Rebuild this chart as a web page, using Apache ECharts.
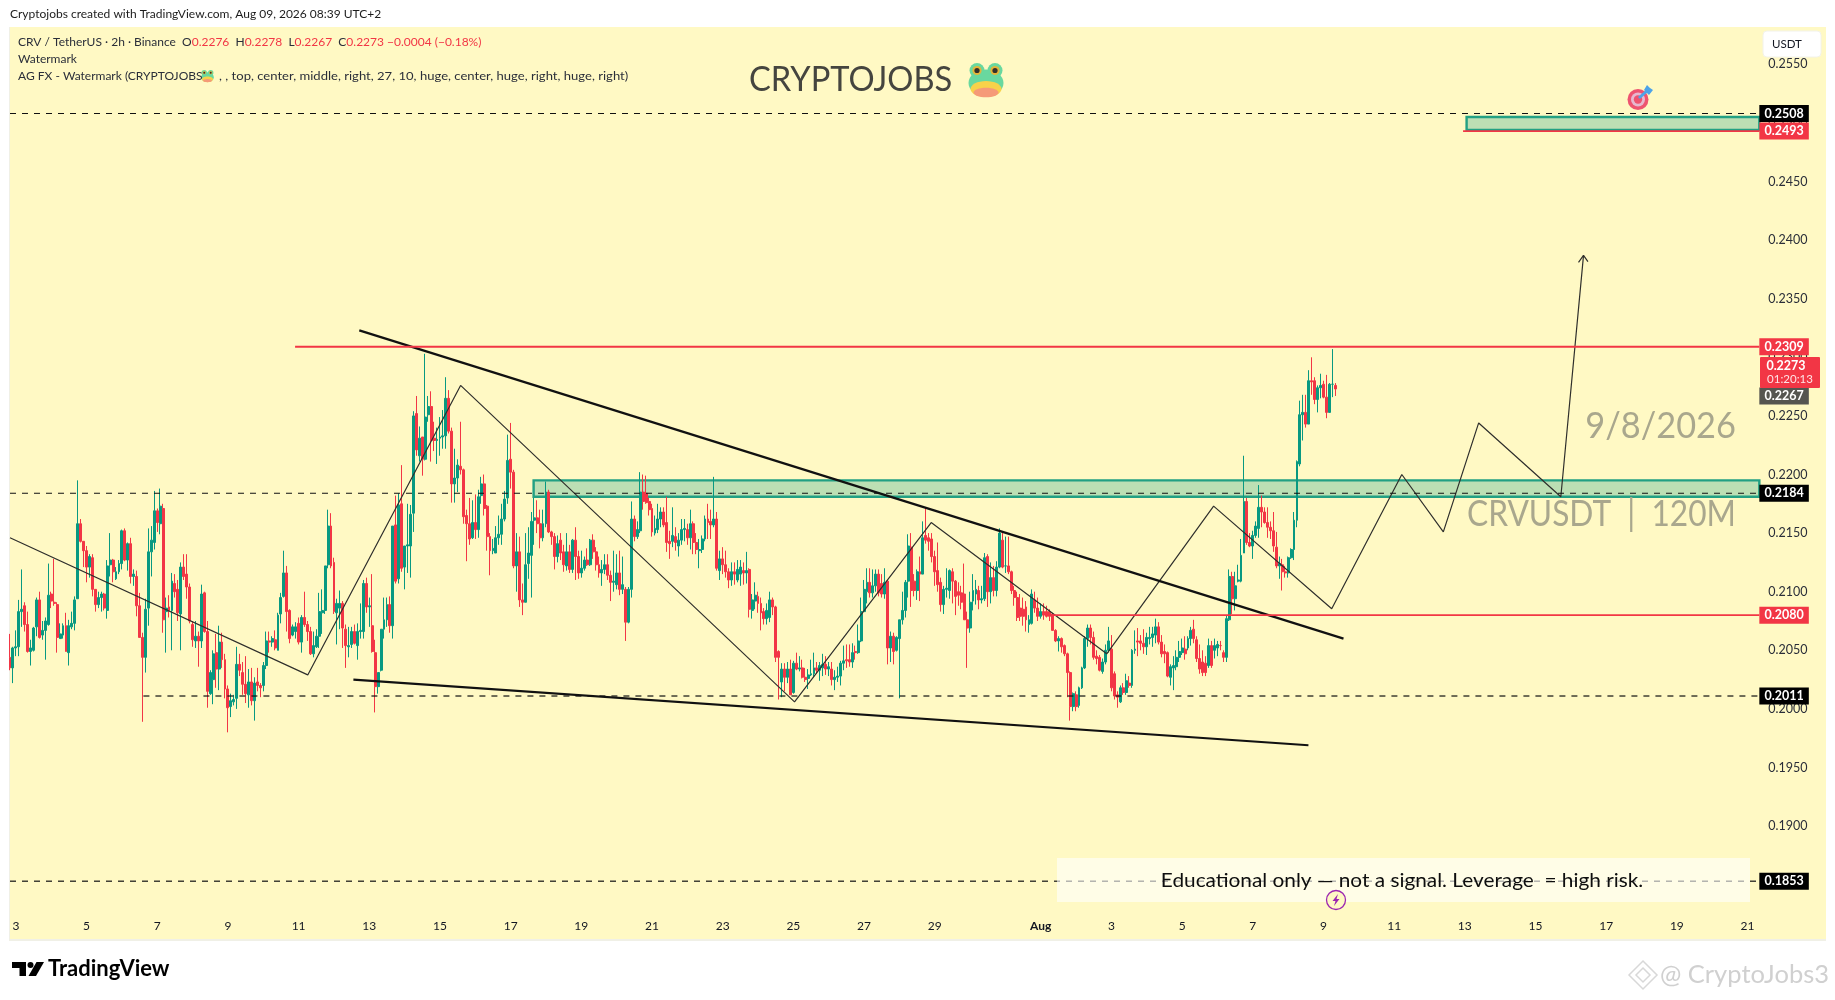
<!DOCTYPE html>
<html><head><meta charset="utf-8">
<style>
html,body{margin:0;padding:0;background:#fff;overflow:hidden}
#panel{position:absolute;left:9px;top:27px;width:1816px;height:912px;background:#fff9c4;border-left:1px solid #f0f0e6;border-bottom:2px solid #f0f0e6}
#c{position:absolute;left:0;top:0;width:1835px;height:1000px}
</style>
<script src="https://cdn.jsdelivr.net/npm/echarts@6/dist/echarts.min.js"></script>
</head><body><div id="panel"></div><div id="c"></div>
<script>
// All prices below are in units of 0.0001 USDT. Each bar is [open, high, low, close] of a 2h candle.
const barsJul3=[[2044,2064,2033,2035],[2035,2053,2022,2052],[2052,2067,2045,2053],[2053,2093,2045,2083],[2083,2119,2070,2085],[2088,2091,2066,2072],[2072,2083,2048,2049],[2049,2059,2037,2052],[2050,2070,2049,2069],[2070,2095,2062,2093],[2093,2100,2060,2061],[2063,2075,2059,2067],[2067,2078,2042,2075],[2072,2124,2071,2097],[2098,2100,2086,2092],[2091,2128,2088,2090],[2089,2091,2048,2061],[2060,2073,2060,2064],[2063,2073,2060,2071],[2071,2082,2049,2049],[2048,2076,2037,2071],[2070,2083,2068,2073],[2073,2096,2067,2093],[2094,2195,2094,2158],[2158,2162,2142,2143],[2143,2143,2121,2135],[2135,2139,2108,2121],[2121,2132,2112,2130],[2129,2132,2096,2102],[2102,2102,2083,2089],[2089,2100,2086,2095],[2095,2100,2083,2098],[2098,2099,2084,2086],[2084,2127,2077,2122],[2123,2150,2113,2127],[2127,2128,2108,2117],[2111,2121,2110,2117],[2117,2127,2115,2124],[2124,2153,2119,2152],[2152,2154,2126,2127],[2127,2142,2118,2141],[2141,2146,2107,2113],[2113,2119,2105,2115],[2113,2118,2079,2088],[2088,2099,2061,2061],[2061,2065,1989,2044],[2044,2094,2031,2085],[2086,2154,2071,2134],[2134,2156,2113,2144],[2142,2186,2136,2169],[2169,2171,2151,2159],[2158,2188,2149,2173],[2171,2175,2065,2076],[2083,2095,2048,2086],[2087,2097,2078,2084],[2084,2116,2050,2109],[2107,2115,2095,2100],[2102,2110,2075,2082],[2081,2125,2050,2121],[2121,2132,2110,2113],[2115,2132,2094,2104],[2104,2107,2073,2075],[2072,2075,2053,2059],[2058,2075,2052,2062],[2062,2066,2036,2058],[2058,2106,2052,2098],[2099,2100,2065,2066],[2066,2075,2001,2015],[2013,2033,2012,2031],[2025,2050,2004,2047],[2048,2064,2018,2034],[2034,2071,2016,2057],[2057,2065,2035,2042],[2042,2047,2009,2017],[2017,2020,1980,2001]];
const barsJul9=[[2002,2013,1993,2007],[2006,2012,2003,2008],[2009,2053,2000,2038],[2038,2047,2028,2033],[2031,2040,2012,2021],[2021,2045,2005,2013],[2012,2034,2001,2023],[2023,2035,2003,2007],[2007,2027,1990,2022],[2023,2035,2015,2020],[2020,2022,2010,2018],[2020,2040,2015,2037],[2037,2066,2034,2058],[2058,2066,2048,2057],[2057,2062,2053,2060],[2059,2067,2050,2052],[2050,2082,2050,2080],[2081,2099,2073,2095],[2096,2135,2095,2116],[2116,2122,2066,2083],[2084,2085,2056,2060],[2063,2072,2062,2070],[2066,2074,2060,2070],[2073,2078,2055,2057],[2057,2080,2048,2078],[2078,2100,2070,2072],[2072,2075,2058,2066],[2066,2070,2046,2047],[2047,2066,2044,2054],[2053,2068,2052,2062],[2062,2099,2052,2083],[2082,2102,2064,2084],[2084,2122,2081,2122],[2123,2170,2120,2156],[2156,2167,2120,2122],[2125,2129,2081,2083],[2082,2094,2055,2090],[2086,2101,2068,2090],[2090,2092,2052,2069],[2068,2072,2035,2054],[2053,2070,2044,2054],[2055,2070,2052,2066],[2066,2072,2055,2056],[2054,2073,2042,2066],[2066,2090,2060,2067],[2066,2110,2060,2107],[2107,2112,2082,2087],[2087,2095,2070,2088],[2071,2115,2048,2049],[2048,2059,1997,2019],[2019,2031,2013,2031],[2033,2068,2032,2068],[2068,2095,2060,2076],[2076,2095,2070,2089],[2089,2096,2065,2071],[2071,2156,2060,2156],[2157,2182,2107,2109],[2111,2184,2107,2174],[2175,2208,2117,2120],[2121,2139,2102,2139],[2139,2175,2116,2140],[2139,2174,2112,2166],[2167,2254,2151,2250],[2252,2267,2216,2221],[2216,2241,2211,2231],[2232,2232,2199,2213],[2213,2303,2212,2249],[2251,2267,2245,2258],[2258,2271,2211,2229],[2231,2245,2220,2229],[2229,2240,2209,2230],[2231,2249,2216,2232],[2232,2255,2222,2233],[2233,2283,2222,2265],[2265,2272,2235,2237]];
const barsJul15=[[2237,2240,2176,2192],[2192,2222,2176,2197],[2197,2213,2185,2208],[2207,2245,2200,2204],[2204,2205,2158,2164],[2165,2170,2126,2158],[2158,2180,2140,2145],[2146,2178,2145,2159],[2159,2183,2145,2153],[2153,2187,2146,2181],[2182,2198,2175,2192],[2192,2200,2165,2171],[2173,2174,2135,2147],[2147,2150,2114,2135],[2135,2145,2132,2137],[2133,2156,2133,2146],[2146,2165,2140,2149],[2149,2175,2140,2162],[2162,2186,2160,2179],[2180,2234,2175,2212],[2213,2244,2188,2202],[2202,2204,2120,2122],[2122,2150,2100,2134],[2134,2147,2087,2093],[2093,2107,2080,2091],[2091,2150,2091,2123],[2124,2155,2111,2133],[2131,2168,2095,2160],[2161,2180,2140,2163],[2163,2178,2150,2158],[2158,2170,2137,2146],[2146,2170,2143,2158],[2158,2194,2155,2185],[2185,2187,2150,2151],[2151,2152,2140,2147],[2147,2150,2119,2130],[2130,2148,2125,2141],[2144,2150,2127,2133],[2134,2140,2117,2123],[2122,2150,2118,2134],[2134,2140,2116,2119],[2119,2145,2116,2144],[2144,2155,2110,2130],[2130,2135,2111,2116],[2116,2135,2112,2120],[2120,2130,2118,2127],[2127,2137,2122,2123],[2123,2145,2122,2144],[2144,2149,2128,2134],[2134,2138,2118,2123],[2123,2130,2112,2116],[2116,2127,2105,2119],[2119,2132,2115,2123],[2123,2132,2110,2114],[2114,2118,2092,2108],[2108,2135,2100,2109],[2106,2132,2102,2116],[2116,2135,2097,2102],[2102,2130,2098,2106],[2102,2104,2058,2074],[2074,2104,2073,2102],[2102,2177,2095,2162],[2162,2165,2143,2147],[2147,2160,2145,2153],[2152,2202,2150,2185],[2185,2200,2170,2177],[2184,2199,2175,2176],[2177,2180,2165,2170],[2171,2175,2147,2151],[2150,2165,2148,2154],[2153,2175,2150,2162],[2162,2172,2155,2168],[2168,2172,2155,2157],[2159,2181,2134,2142],[2143,2152,2128,2141]];
const barsJul21=[[2143,2172,2138,2148],[2147,2155,2135,2142],[2139,2150,2130,2144],[2144,2162,2140,2153],[2153,2162,2143,2154],[2153,2158,2140,2146],[2146,2170,2136,2158],[2158,2160,2132,2142],[2142,2150,2132,2136],[2135,2145,2120,2136],[2136,2148,2133,2145],[2145,2165,2143,2162],[2162,2175,2145,2159],[2160,2170,2145,2157],[2157,2198,2155,2162],[2162,2168,2118,2120],[2118,2135,2110,2128],[2128,2138,2115,2123],[2123,2135,2112,2117],[2117,2120,2103,2110],[2110,2125,2105,2117],[2117,2125,2106,2115],[2110,2127,2108,2119],[2115,2127,2105,2121],[2118,2125,2106,2116],[2116,2134,2107,2118],[2119,2120,2078,2085],[2084,2098,2077,2093],[2092,2108,2085,2097],[2096,2100,2082,2090],[2090,2095,2067,2082],[2083,2086,2072,2077],[2077,2090,2072,2084],[2078,2100,2074,2093],[2093,2095,2080,2087],[2087,2088,2040,2044],[2049,2050,2008,2044],[2023,2039,2010,2034],[2034,2039,2015,2027],[2027,2040,2022,2034],[2034,2042,2012,2012],[2014,2041,2013,2039],[2039,2048,2033,2034],[2034,2045,2032,2035],[2035,2042,2026,2027],[2027,2035,2023,2025],[2026,2034,2017,2029],[2029,2042,2028,2030],[2030,2048,2027,2035],[2035,2040,2030,2033],[2033,2040,2024,2037],[2035,2047,2028,2038],[2038,2045,2029,2034],[2034,2040,2028,2036],[2034,2040,2020,2025],[2025,2033,2016,2027],[2027,2036,2023,2028],[2028,2041,2020,2039],[2039,2054,2033,2041],[2042,2055,2035,2041],[2042,2055,2036,2040],[2040,2056,2035,2048],[2049,2054,2042,2048],[2048,2072,2047,2058],[2058,2095,2057,2083]];
const barsJul29=[[2083,2110,2083,2102],[2100,2120,2090,2108],[2108,2120,2095,2099],[2099,2119,2095,2105],[2105,2119,2100,2115],[2115,2119,2096,2099],[2107,2115,2095,2098],[2098,2120,2094,2108],[2109,2110,2038,2052],[2052,2066,2040,2062],[2062,2065,2038,2049],[2050,2062,2049,2061],[2060,2076,2009,2076],[2076,2100,2072,2084],[2084,2110,2078,2108],[2109,2149,2095,2139],[2138,2150,2087,2101],[2109,2115,2096,2101],[2101,2119,2093,2117],[2117,2130,2092,2115],[2115,2160,2115,2146],[2148,2172,2141,2144],[2146,2150,2135,2143],[2145,2150,2125,2130],[2130,2135,2105,2117],[2118,2142,2100,2106],[2108,2112,2083,2089],[2089,2105,2081,2102],[2102,2120,2095,2103],[2101,2119,2094,2118],[2117,2120,2090,2109],[2109,2110,2080,2096],[2100,2108,2088,2097],[2099,2105,2085,2091],[2098,2124,2076,2076],[2076,2083,2035,2069],[2069,2100,2065,2091],[2092,2115,2084,2101],[2098,2110,2089,2102],[2101,2105,2085,2093],[2093,2105,2090,2094],[2094,2133,2092,2129],[2130,2132,2087,2100],[2100,2125,2090,2112],[2112,2122,2096,2101],[2101,2126,2096,2121],[2121,2154,2120,2150],[2144,2150,2120,2121],[2122,2147,2116,2122],[2122,2147,2115,2117],[2117,2118,2098,2101],[2101,2105,2088,2095],[2095,2100,2075,2078],[2086,2098,2075,2079],[2085,2095,2071,2079],[2087,2092,2066,2076],[2072,2080,2065,2076],[2073,2102,2072,2098],[2093,2100,2082,2086],[2086,2095,2075,2079],[2079,2090,2077,2083],[2083,2090,2076,2080],[2083,2088,2078,2079],[2083,2085,2075,2079],[2081,2082,2067,2067],[2067,2068,2057,2058],[2058,2062,2049,2060],[2060,2061,2048,2053],[2054,2055,2045,2047],[2047,2048,2010,2031],[2031,2032,1990,2002]];
const barsAug2=[[2002,2014,1998,2013],[2012,2015,1998,2002],[2003,2019,2001,2018],[2018,2036,2017,2035],[2035,2062,2034,2060],[2060,2072,2053,2069],[2069,2072,2055,2061],[2061,2066,2042,2044],[2045,2050,2038,2043],[2044,2046,2032,2033],[2032,2043,2030,2040],[2040,2055,2038,2050],[2050,2070,2048,2058],[2051,2063,2015,2018],[2030,2032,2008,2011],[2012,2015,2001,2010],[2006,2020,2005,2018],[2018,2022,2012,2014],[2014,2030,2012,2024],[2022,2028,2018,2020],[2020,2051,2018,2050],[2050,2067,2047,2051],[2058,2069,2045,2057],[2058,2063,2050,2056],[2056,2068,2047,2053],[2053,2065,2046,2061],[2060,2070,2055,2061],[2061,2070,2053,2064],[2063,2077,2056,2070],[2070,2074,2055,2057],[2057,2063,2044,2047],[2049,2055,2039,2047],[2048,2049,2027,2028],[2027,2038,2020,2036],[2035,2045,2016,2037],[2036,2050,2033,2044],[2044,2058,2040,2049],[2048,2060,2046,2052],[2051,2062,2042,2047],[2052,2062,2050,2060],[2060,2070,2054,2067],[2068,2076,2056,2060],[2059,2062,2040,2043],[2043,2055,2030,2034],[2040,2050,2028,2031],[2039,2045,2028,2031],[2037,2060,2035,2054],[2054,2058,2035,2037],[2050,2060,2043,2054],[2052,2058,2045,2055],[2054,2058,2050,2054],[2048,2050,2040,2044],[2044,2080,2040,2077],[2076,2119,2075,2113],[2113,2117,2081,2094],[2094,2117,2084,2105],[2109,2123,2108,2110],[2109,2145,2108,2131],[2133,2216,2133,2177],[2177,2180,2140,2142],[2142,2150,2138,2139],[2139,2152,2128,2148],[2148,2160,2146,2156],[2154,2191,2146,2172],[2172,2182,2155,2168],[2168,2172,2158,2159],[2159,2172,2146,2155],[2155,2160,2145,2152],[2152,2168,2134,2139],[2138,2151,2120,2122],[2122,2130,2111,2124],[2123,2128,2101,2117],[2117,2122,2112,2116],[2116,2130,2112,2129],[2129,2137,2128,2136],[2136,2168,2127,2161],[2161,2212,2155,2211],[2209,2263,2207,2251],[2251,2268,2229,2253],[2253,2268,2240,2243],[2243,2289,2243,2280],[2280,2300,2268,2279],[2280,2283,2260,2264],[2264,2276,2253,2274],[2274,2286,2265,2276],[2277,2280,2265,2266],[2266,2285,2248,2253],[2253,2278,2253,2277],[2277,2307,2266,2277],[2276,2278,2267,2273]];

const dateLabels=['3','5','7','9','11','13','15','17','19','21','23','25','27','29','Aug','3','5','7','9','11','13','15','17','19','21'];
const dateBars=[2,26,50,74,98,122,146,170,194,218,242,266,290,314,350,374,398,422,446,470,494,518,542,566,590];

// Drawn levels: [first bar, price]
const dashedLevels=[[0,2508],[0,2184],[45.3,2011],[0,1853]];
const redLevels=[[96.8,2309],[353.7,2080],[493.4,2493]];
const zones=[[177.8,2195,2181],[494.6,2505,2494]];
// Price tags at the right edge: [price, kind]
const tagLevels=[[2508,'k'],[2493,'r'],[2309,'r'],[2267,'g'],[2184,'k'],[2080,'r'],[2011,'k'],[1853,'k']];
const lastPrice=2273, countdown='01:20:13';
// Hand-drawn paths: [bar, price]
const swingPath=[[0,2146],[101.1,2029],[153,2276],[266.4,2006],[312.8,2159],[372.4,2047],[408.7,2173],[448.8,2085.5],[472.6,2200],[486.7,2151],[498.7,2244],[526.6,2181],[534.3,2387]];
const arrowHead=[[532.6,2381],[534.3,2387],[535.8,2381.7]];
const upperTrend=[[118.6,2323],[452.8,2060]];
const lowerTrend=[[116.6,2025],[440.9,1969]];

const LASTBAR=594, FONT='Lato, "Noto Sans", sans-serif';
const UP='#089981', DOWN='#f23645';
const allBars=[...barsJul3,...barsJul9,...barsJul15,...barsJul21,...barsJul29,...barsAug2];
const px=v=>v/10000;
const pts=a=>a.map(p=>[p[0],px(p[1])]);
const candleData=allBars.map((b,i)=>[i,px(b[0]),px(b[3]),px(b[2]),px(b[1])]);
const line=(name,data,color,width,type,z)=>({name,type:'line',data:pts(data),showSymbol:false,silent:true,z,animation:false,
  lineStyle:{color,width,type:type||'solid'},itemStyle:{color},emphasis:{disabled:true}});

const series=[
 {name:'zones',type:'custom',z:1,silent:true,data:zones.map(z=>[z[0],px(z[1]),px(z[2])]),encode:{x:0,y:[1,2]},
  renderItem(p,api){const a=api.coord([api.value(0),api.value(1)]),b=api.coord([LASTBAR,api.value(2)]);
   return {type:'rect',shape:{x:a[0],y:a[1],width:b[0]-a[0],height:b[1]-a[1]},style:{fill:'#bcdfb4',stroke:'#22a083',lineWidth:2.4}};}},
 {name:'CRVUSDT',type:'candlestick',z:2,data:candleData,encode:{x:0,y:[1,2,3,4]},barWidth:2.4,silent:true,progressive:0,large:false,animation:false,
  itemStyle:{color:UP,color0:DOWN,borderColor:UP,borderColor0:DOWN,borderWidth:1}},
 line('swing',swingPath,'#2f2f2c',1.2,null,3),
 line('arrow',arrowHead,'#2f2f2c',1.2,null,3),
 line('upper',upperTrend,'#111',2.2,null,3),
 line('lower',lowerTrend,'#111',2.2,null,3),
 ...dashedLevels.map((l,i)=>line('dash'+i,[[l[0],l[1]],[LASTBAR,l[1]]],'#111',1.2,[6,6],4)),
 ...redLevels.map((l,i)=>line('red'+i,[[l[0],l[1]],[LASTBAR,l[1]]],DOWN,1.8,null,4)),
 {name:'tags',type:'custom',z:8,silent:true,clip:false,data:tagLevels.map(t=>[LASTBAR,px(t[0]),t[1]==='k'?0:t[1]==='r'?1:2]),encode:{x:0,y:1},
  renderItem(p,api){const c=api.coord([LASTBAR,api.value(1)]),fill=['#000',DOWN,'#555550'][api.value(2)];
   return {type:'group',children:[
    {type:'rect',shape:{x:c[0],y:c[1]-8.5,width:49.5,height:17},style:{fill}},
    {type:'text',x:c[0]+24.7,y:c[1],style:{text:api.value(1).toFixed(4),fill:'#fff',font:'700 12.5px '+FONT,align:'center',verticalAlign:'middle'}}]};}}
];

function frog(x,y,s,z){return {type:'group',x,y,scaleX:s,scaleY:s,z,children:[
 {type:'ellipse',shape:{cx:18,cy:20,rx:17.5,ry:13.5},style:{fill:'#69d89f'}},
 {type:'circle',shape:{cx:9,cy:7.5,r:7.5},style:{fill:'#69d89f'}},{type:'circle',shape:{cx:27,cy:7.5,r:7.5},style:{fill:'#69d89f'}},
 {type:'circle',shape:{cx:9,cy:7.5,r:4.6},style:{fill:'#e3b53a'}},{type:'circle',shape:{cx:27,cy:7.5,r:4.6},style:{fill:'#e3b53a'}},
 {type:'circle',shape:{cx:9,cy:7.5,r:2.6},style:{fill:'#33302a'}},{type:'circle',shape:{cx:27,cy:7.5,r:2.6},style:{fill:'#33302a'}},
 {type:'ellipse',shape:{cx:18,cy:26,rx:15.5,ry:8},style:{fill:'#f8d24a'}},
 {type:'ellipse',shape:{cx:18,cy:29.5,rx:12.5,ry:4.8},style:{fill:'#f59a78'}}]};}
const T=(x,y,text,font,fill,o,sx)=>({type:'text',x,y,z:20,silent:true,scaleX:sx||1,style:Object.assign({text,font:font+' '+FONT,fill,verticalAlign:'middle'},o||{})});
const red=t=>'{r|'+t+'}';
const legendText='{d|CRV / TetherUS · 2h · Binance  O}'+red('0.2276')+'{d|  H}'+red('0.2278')+'{d|  L}'+red('0.2267')+'{d|  C}'+red('0.2273')+red(' −0.0004 (−0.18%)');
const graphic=[
 T(10,14,'Cryptojobs created with TradingView.com, Aug 09, 2026 08:39 UTC+2','12px','#1c1c1c'),
 {type:'text',x:18,y:42,z:20,silent:true,style:{text:legendText,font:'12px '+FONT,verticalAlign:'middle',rich:{d:{fill:'#2a2e39',font:'12px '+FONT},r:{fill:DOWN,font:'12px '+FONT}}}},
 T(18,59,'Watermark','12px','#2a2e39'),
 T(18,76,'AG FX - Watermark (CRYPTOJOBS','12px','#2a2e39'),
 frog(201,70,.36,20),
 T(219,76,', , top, center, middle, right, 27, 10, huge, center, huge, right, huge, right)','12px','#2a2e39',null,1.087),
 T(749,80,'CRYPTOJOBS','34px','#45453f',null,.96),
 frog(968,63,1,20),
 {type:'rect',z:20,shape:{x:1763,y:31,width:58,height:26,r:4},style:{fill:'#fff',stroke:'#f2f2ea'}},
 T(1772,44,'USDT','11.5px','#131722'),
 {type:'rect',z:9,shape:{x:1760,y:357,width:60,height:31,r:1},style:{fill:DOWN}},
 T(1786,365.5,px(lastPrice).toFixed(4),'700 12.5px','#fff',{align:'center'}),
 T(1790,379,countdown,'11.5px','#ffe3e5',{align:'center'}),
 T(1736,426,'9/8/2026','36px','#a9a78d',{align:'right'},.955),
 T(1736,514,'CRVUSDT  |  120M','36px','#a9a78d',{align:'right'},.88),
 {type:'rect',z:12,shape:{x:1057,y:858,width:693,height:44},style:{fill:'rgba(255,255,255,0.6)'}},
 T(1402,881,'Educational only — not a signal. Leverage  = high risk.','20px','#0e0e0e',{align:'center'},1.04),
 {type:'circle',z:21,shape:{cx:1336,cy:900,r:9.5},style:{fill:'#fff9c4',stroke:'#9c27b0',lineWidth:1.3}},
 {type:'polygon',z:22,shape:{points:[[1338,894],[1332.5,901],[1335.5,901],[1334,906],[1339.5,899],[1336.5,899]]},style:{fill:'#9c27b0'}},
 {type:'circle',z:21,shape:{cx:1638,cy:99.5,r:10.5},style:{fill:'#ee5470'}},
 {type:'circle',z:21,shape:{cx:1638,cy:99.5,r:7},style:{fill:'#e7b8cf'}},
 {type:'circle',z:21,shape:{cx:1638,cy:99.5,r:4.2},style:{fill:'#ee5470'}},
 {type:'line',z:22,shape:{x1:1639,y1:98,x2:1648,y2:90},style:{stroke:'#4da3e8',lineWidth:3}},
 {type:'polygon',z:22,shape:{points:[[1644,90],[1647,85],[1650,88],[1653,90],[1649,95]]},style:{fill:'#4da3e8'}},
 // footer
 {type:'polygon',z:20,shape:{points:[[12,962],[26,962],[26,976],[19.5,976],[19.5,968],[12,968]]},style:{fill:'#000'}},
 {type:'circle',z:20,shape:{cx:30.5,cy:965,r:3},style:{fill:'#000'}},
 {type:'polygon',z:20,shape:{points:[[36.5,962],[44,962],[36,976],[28.5,976]]},style:{fill:'#000'}},
 T(48,969,'TradingView','700 22px','#000'),
 {type:'polygon',z:20,shape:{points:[[1643,961],[1657,975],[1643,989],[1629,975]]},style:{fill:'none',stroke:'#d8d8d8',lineWidth:1.5}},
 {type:'polygon',z:20,shape:{points:[[1643,968],[1650,975],[1643,982],[1636,975]]},style:{fill:'none',stroke:'#d8d8d8',lineWidth:1.5}},
 T(1829,975,'@ CryptoJobs3','25.5px','#d0d0d0',{align:'right'})
];

const chart=echarts.init(document.getElementById('c'),null,{renderer:'canvas'});
chart.setOption({animation:false,backgroundColor:'transparent',
 grid:{left:10,top:29.14,width:1749.33,height:914.16,containLabel:false},
 xAxis:{type:'value',min:0,max:LASTBAR,axisLine:{show:false},axisTick:{show:false},splitLine:{show:false},
  axisLabel:{customValues:dateBars,inside:true,margin:11,color:'#131722',fontSize:12,fontFamily:'Lato, "Noto Sans", sans-serif',
   formatter:v=>{const l=dateLabels[dateBars.indexOf(v)];return l==='Aug'?'{b|Aug}':l;},rich:{b:{fontWeight:700,fontSize:12,color:'#131722'}}}},
 yAxis:{type:'value',position:'right',min:0.18,max:0.258,interval:0.005,scale:true,axisLine:{show:false},axisTick:{show:false},splitLine:{show:false},
  axisLabel:{margin:9,color:'#2a2e39',fontSize:12.5,fontFamily:'Lato, "Noto Sans", sans-serif',showMinLabel:false,showMaxLabel:false,formatter:v=>v.toFixed(4)}},
 series,graphic:{elements:graphic}});
</script></body></html>
